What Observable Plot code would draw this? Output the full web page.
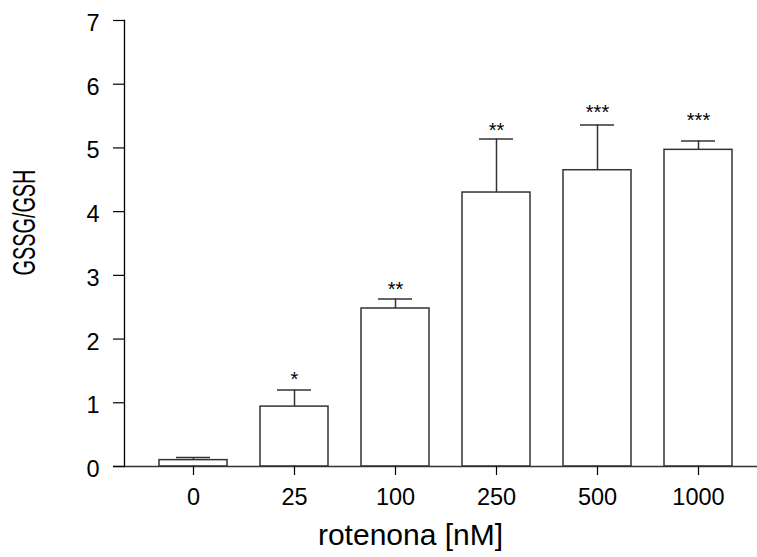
<!DOCTYPE html>
<html><head><meta charset="utf-8">
<script src="https://cdn.jsdelivr.net/npm/d3@7"></script>
<script src="https://cdn.jsdelivr.net/npm/@observablehq/plot@0.6"></script>
<style>body{margin:0;background:#fff}</style>
</head><body><div id="chart"></div>
<script>
const concentrations = ["0", "25", "100", "250", "500", "1000"];
const means = [0.10, 0.94, 2.48, 4.30, 4.65, 4.97];
const errors = [0.04, 0.26, 0.15, 0.84, 0.71, 0.14];
const significance = ["", "*", "**", "**", "***", "***"];
const starLevels = [null, 1.44, 2.85, 5.35, 5.64, 5.51];
const yTicks = [0, 1, 2, 3, 4, 5, 6, 7];
const xLabel = "rotenona [nM]";
const yLabel = "GSSG/GSH";

const data = concentrations.map((c, i) => ({
  conc: c, mean: means[i], top: means[i] + errors[i], sig: significance[i], star: starLevels[i]
}));

const chart = Plot.plot({
  width: 757, height: 557,
  marginTop: 20, marginBottom: 91, marginLeft: 124, marginRight: 0,
  style: {fontFamily: "'Liberation Sans', Arial, sans-serif", fontSize: "23.5px", color: "#000", background: "#fff"},
  x: {domain: concentrations, range: [140.2, 749.8], paddingInner: 0.33, paddingOuter: 0.165, label: null},
  y: {domain: [0, 7], label: null},
  marks: [
    Plot.barY(data, {x: "conc", y: "mean", fill: "white", stroke: "#333", strokeWidth: 1.5}),
    Plot.ruleX(data, {x: "conc", y1: "mean", y2: "top", stroke: "#333", strokeWidth: 1.5}),
    Plot.tickY(data, {x: "conc", y: "top", insetLeft: 17, insetRight: 17, stroke: "#333", strokeWidth: 1.5}),
    Plot.text(data.filter(d => d.sig), {x: "conc", y: "star", text: "sig", fontSize: 20, dy: 5}),
    Plot.ruleY([0], {stroke: "#333", strokeWidth: 1.5, insetLeft: -11}),
    Plot.frame({anchor: "left", stroke: "#000", strokeWidth: 1.3}),
    Plot.axisY({ticks: yTicks, tickSize: 11, tickFormat: () => "", label: null, stroke: "#000", strokeWidth: 1.2}),
    Plot.axisY({ticks: yTicks, tickSize: 0, tickPadding: 25, dy: 3, tickFormat: d3.format("d"), label: null}),
    Plot.axisX({tickSize: 9, tickPadding: 13, label: null, stroke: "#000", strokeWidth: 1.2}),
    Plot.text([yLabel], {frameAnchor: "left", text: d => d, rotate: -90, fontSize: 31, textAnchor: "middle", lineAnchor: "middle", dx: -99, dy: -21}),
    Plot.text([xLabel], {frameAnchor: "bottom", text: d => d, fontSize: 30, textAnchor: "middle", lineAnchor: "middle", dx: -30.5, dy: 68.5})
  ]
});

chart.querySelectorAll("text").forEach(t => {
  if (t.textContent === yLabel) {
    const tr = t.getAttribute("transform") || "";
    t.setAttribute("transform", tr + " scale(0.64,1)");
  }
});

document.getElementById("chart").appendChild(chart);
</script>
</body></html>
